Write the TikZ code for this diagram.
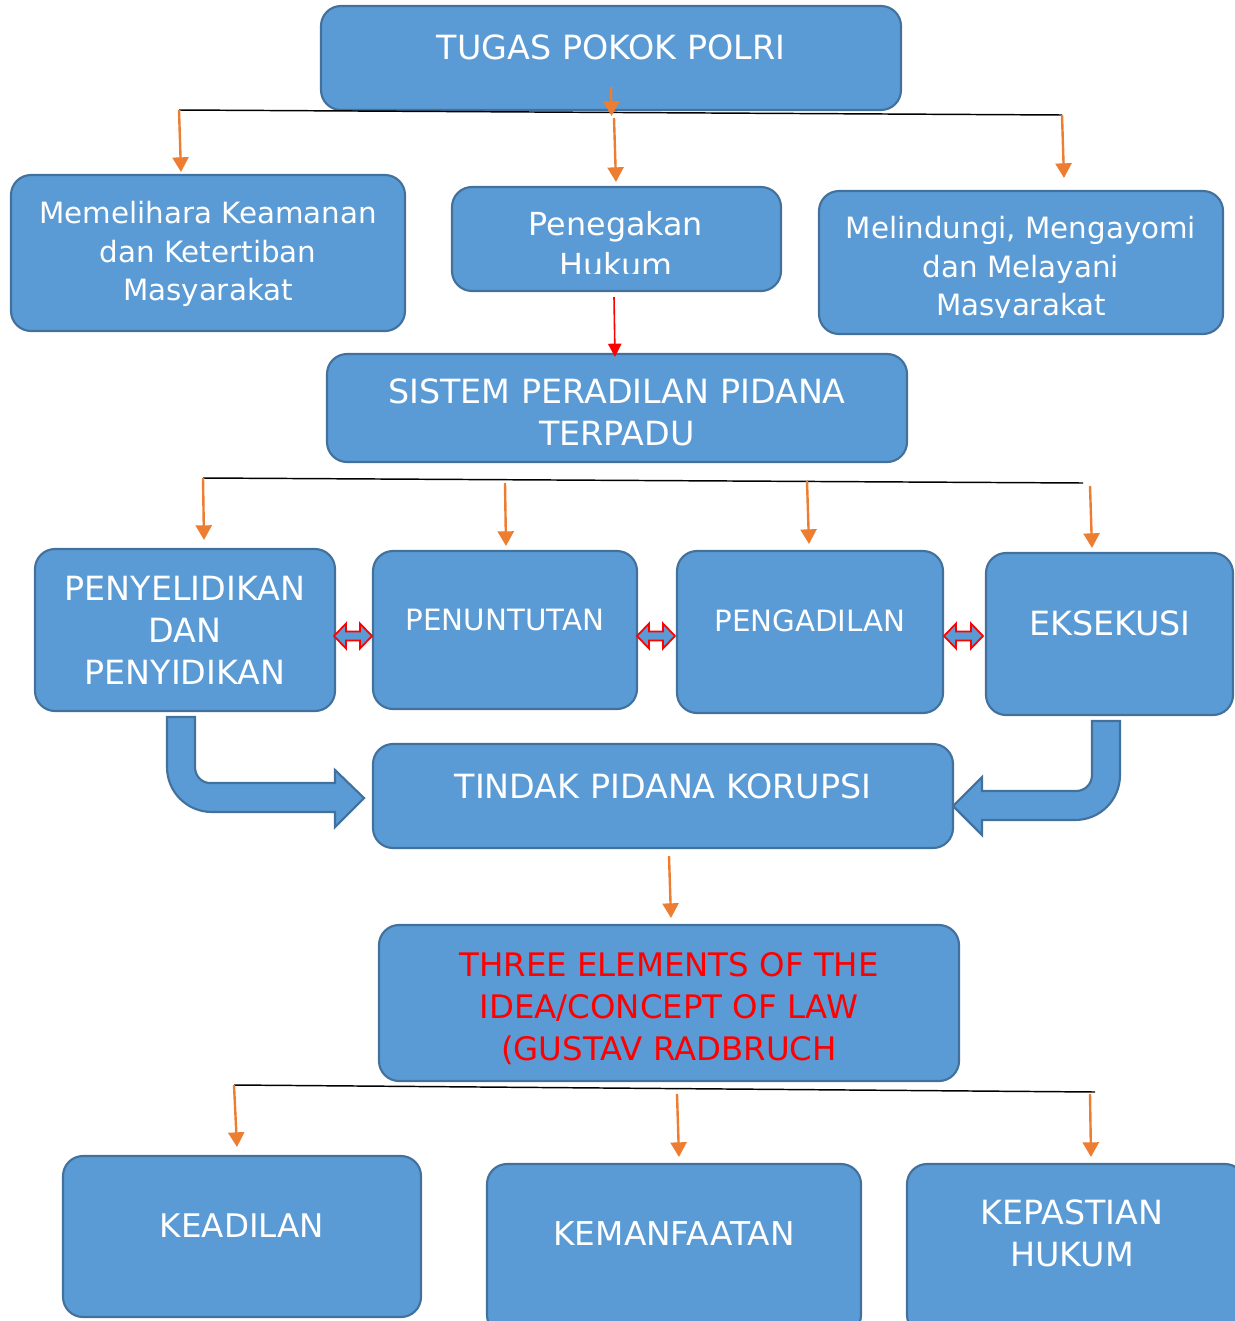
\documentclass[tikz,border=0pt]{standalone}
\usepackage{fontspec}
\setmainfont{DejaVu Sans}
\usetikzlibrary{arrows.meta,fit}
\definecolor{boxfill}{HTML}{5B9BD5}
\definecolor{boxline}{HTML}{41719C}
\definecolor{arrorange}{HTML}{ED7D31}
\definecolor{txtred}{HTML}{FF0000}
\begin{document}
\begin{tikzpicture}[x=0.75pt,y=-0.75pt,
  box/.style={draw=boxline, fill=boxfill, line width=1.6pt, rounded corners=15pt, inner sep=0pt},
  lbl/.style={text=white, align=center, inner sep=0pt},
  big/.style={font=\fontsize{25}{31.5}\selectfont},
  mid/.style={font=\fontsize{22}{29}\selectfont},
  branch/.style={draw=black, line width=1.1pt},
  oarrow/.style={draw=arrorange, line width=1.8pt, -{Triangle[width=12pt,length=11pt]}},
  rarrow/.style={draw=red, line width=1.2pt, -{Triangle[width=10pt,length=10pt]}},
  dbl/.style={draw=red, fill=boxfill, line width=1.3pt, line join=miter},
  bigarrow/.style={draw=boxline, fill=boxfill, line width=1.6pt, line join=miter}]
\clip (0,0) rectangle (1235,1321);
\useasboundingbox (0,0) rectangle (1235,1321);

% ---------- boxes ----------
\node[box, fit={(321,6) (901,110)}] (tugas) {};
\node[box, fit={(11,175) (405,331)}] (mem) {};
\node[box, fit={(452,187) (781,291)}] (peneg) {};
\node[box, fit={(819,191) (1223,334)}] (mel) {};
\node[box, fit={(327,354) (907,462)}] (sistem) {};
\node[box, fit={(35,549) (335,711)}] (peny) {};
\node[box, fit={(373,551) (637,709)}] (penu) {};
\node[box, fit={(677,551) (943,713)}] (penga) {};
\node[box, fit={(986,553) (1233,715)}] (eks) {};
\node[box, fit={(373,744) (953,848)}] (tindak) {};
\node[box, fit={(379,925) (959,1081)}] (three) {};
\node[box, fit={(63,1156) (421,1317)}] (kead) {};
\node[box, fit={(487,1164) (861,1335)}] (keman) {};
\node[box, fit={(907,1164) (1245,1335)}] (kepas) {};

% ---------- texts ----------
\node[lbl, big] (ttugas) at (611,47) {TUGAS POKOK POLRI};
\node[lbl, mid] (tmem) at (208,254) {Memelihara Keamanan\\dan Ketertiban\\Masyarakat};
\begin{scope}
  \clip (452,187) rectangle (781,273.5);
  \node[lbl, font=\fontsize{23.8}{30.75}\selectfont] (tpeneg) at (616,244) {Penegakan\\Hukum};
\end{scope}
\begin{scope}
  \clip (819,191) rectangle (1223,317);
  \node[lbl, mid] (tmel) at (1021,269) {Melindungi, Mengayomi\\dan Melayani\\Masyarakat};
\end{scope}
\node[lbl, big] (tsistem) at (617,412) {SISTEM PERADILAN PIDANA\\TERPADU};
\node[lbl, big] (tpeny) at (185,630) {PENYELIDIKAN\\DAN\\PENYIDIKAN};
\node[lbl, mid] (tpenu) at (505,620) {PENUNTUTAN};
\node[lbl, mid] (tpenga) at (810,621) {PENGADILAN};
\node[lbl, big] (teks) at (1110,623) {EKSEKUSI};
\node[lbl, big] (ttindak) at (663,786) {TINDAK PIDANA KORUPSI};
\node[lbl, font=\fontsize{24.3}{31.5}\selectfont, text=txtred] (tthree) at (669,1009) {THREE ELEMENTS OF THE\\IDEA/CONCEPT OF LAW\\(GUSTAV RADBRUCH};
\node[lbl, font=\fontsize{24.4}{31.5}\selectfont] (tkead) at (242,1226) {KEADILAN};
\node[lbl, font=\fontsize{24.6}{31.5}\selectfont] (tkeman) at (674,1234) {KEMANFAATAN};
\node[lbl, font=\fontsize{25}{32}\selectfont] (tkepas) at (1072,1233.5) {KEPASTIAN\\HUKUM};

% ---------- level 1 connectors ----------
\coordinate (b1L) at (179,110);
\coordinate (b1R) at (1062,115);
\coordinate (b1Ms) at (611,87);
\coordinate (b1Mt) at (611.6,116);
\coordinate (b1Ma) at (614,118);
\coordinate (e1mem) at (181,172);
\coordinate (e1peneg) at (616,182);
\coordinate (e1mel) at (1064,178);
\draw[branch] (b1L) -- (b1R);
\draw[oarrow] (b1Ms) -- (b1Mt);
\draw[oarrow] (b1L) -- (e1mem);
\draw[oarrow] (b1Ma) -- (e1peneg);
\draw[oarrow] (b1R) -- (e1mel);

% red arrow Penegakan -> Sistem
\coordinate (rs) at (614,297);
\coordinate (re) at (615,357);
\draw[rarrow] (rs) -- (re);

% ---------- level 2 connectors ----------
\coordinate (b2L) at (203,478);
\coordinate (b2R) at (1083,483);
\coordinate (b2a) at (505,483);
\coordinate (b2b) at (807,481);
\coordinate (b2c) at (1090,486);
\coordinate (e2peny) at (204,540);
\coordinate (e2penu) at (506,546);
\coordinate (e2penga) at (809,544);
\coordinate (e2eks) at (1092,548);
\draw[branch] (b2L) -- (b2R);
\draw[oarrow] (b2L) -- (e2peny);
\draw[oarrow] (b2a) -- (e2penu);
\draw[oarrow] (b2b) -- (e2penga);
\draw[oarrow] (b2c) -- (e2eks);

% ---------- double arrows ----------
\newcommand\dblarr[3]{%
  \draw[dbl] (#1,#3) -- (#1+12,#3-12.5) -- (#1+12,#3-4.5) -- (#2-12,#3-4.5)
    -- (#2-12,#3-12.5) -- (#2,#3) -- (#2-12,#3+12.5) -- (#2-12,#3+4.5)
    -- (#1+12,#3+4.5) -- (#1+12,#3+12.5) -- cycle;}
\dblarr{334}{372}{636}
\dblarr{637}{675}{636}
\dblarr{944}{983}{636}

% ---------- bent block arrows ----------
\draw[bigarrow] (167,717) -- (195,717) -- (195,767)
  .. controls (195,776) and (201.7,783) .. (210,783) -- (335,783) -- (335,770)
  -- (364,798) -- (335,827) -- (335,812) -- (212,812)
  .. controls (187,812) and (167,792) .. (167,767) -- cycle;
\draw[bigarrow] (1092,721) -- (1120,721) -- (1120,775)
  .. controls (1120,800) and (1100,820) .. (1075,820) -- (982,820) -- (982,835)
  -- (953,806) -- (982,777) -- (982,791) -- (1076,791)
  .. controls (1085,791) and (1092,784) .. (1092,775) -- cycle;

% Tindak -> Three
\coordinate (ts) at (669,856);
\coordinate (te) at (671,918);
\draw[oarrow] (ts) -- (te);

% ---------- level 3 connectors ----------
\coordinate (b3L) at (234,1085);
\coordinate (b3R) at (1095,1092);
\coordinate (b3a) at (677,1094);
\coordinate (b3b) at (1090,1094);
\coordinate (e3kead) at (237,1147);
\coordinate (e3keman) at (679,1157);
\coordinate (e3kepas) at (1091,1157);
\draw[branch] (b3L) -- (b3R);
\draw[oarrow] (b3L) -- (e3kead);
\draw[oarrow] (b3a) -- (e3keman);
\draw[oarrow] (b3b) -- (e3kepas);
\end{tikzpicture}
\end{document}
